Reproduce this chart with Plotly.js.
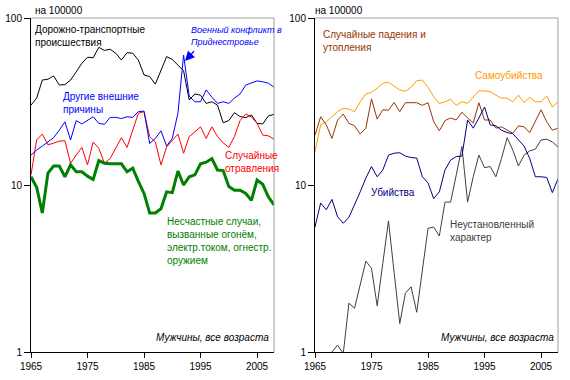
<!DOCTYPE html>
<html>
<head>
<meta charset="utf-8">
<script src="https://cdn.plot.ly/plotly-3.0.1.min.js"></script>
<style>html,body{margin:0;padding:0;background:#fff}#chart{width:570px;height:380px}</style>
</head>
<body>
<div id="chart"></div>
<script>
var years = [1965,1966,1967,1968,1969,1970,1971,1972,1973,1974,1975,1976,1977,1978,1979,1980,1981,1982,1983,1984,1985,1986,1987,1988,1989,1990,1991,1992,1993,1994,1995,1996,1997,1998,1999,2000,2001,2002,2003,2004,2005,2006,2007,2008];

// Left panel
var roadTraffic = [30.1,33.1,42.5,43,45,39.7,39.9,42.5,47.6,53.6,58.2,57.8,66.7,64,65,61.5,56,62,61.5,56,45.6,44.6,40.2,48.9,58.7,56.5,52.3,48.3,32.3,35.1,34.5,30.8,31.5,30.1,23.6,24.3,27.1,25.7,25.3,26.3,23.4,23.2,25.9,26.5];
var otherExternal = [15.1,16.2,17.1,18.1,19.2,21.3,23.9,18.6,24.3,23.2,24.5,25.6,23.4,23.1,25.4,25.4,25,25.6,25.4,27.5,27.7,17.7,19.0,21.1,17.1,19.0,26.9,60,34,31.5,31.5,37.1,33.6,30.8,31.5,30.8,33.1,35.1,39.7,40.7,42,41.5,40.7,38.5];
var poisoning = [11.5,18.6,20.2,17.4,17.8,18.3,18.4,13.5,15.1,16.8,13.2,18.1,16.6,13.5,14.4,16.8,19.2,16.8,21.3,26.9,27.5,19.5,18.1,13.2,16.9,18.6,20.2,15.5,19.5,20.8,22.3,19.0,22.3,19.5,17.9,16.8,19.5,24.3,26.6,25.6,23.4,19.9,19.7,18.8];
var fireElecGun = [11.2,9.7,6.8,11.8,13.0,13.0,11.2,13.2,12.0,12.0,11.3,10.8,14.0,13.5,13.4,13.4,13.4,12.0,12.6,10.5,8.9,6.8,6.8,7.2,9.1,9.0,12.1,10.0,11.2,11.5,13.4,13.7,14.4,12.3,12.2,9.8,9.3,9.3,8.9,8.1,10.7,10.1,8.5,7.6];

// Right panel
var fallsDrowning = [19.9,25.6,22.9,19.0,24.5,26.6,23.4,22.6,20.2,21.9,32.8,24.8,28.2,28.0,31.2,27.5,31.1,31.1,31.1,30.0,31.1,24,21.1,24.3,25.2,24.5,27.3,25.2,23.5,31.1,24.5,24.5,21.9,22.3,21.3,20.4,22.6,22.3,20.6,23.9,28.2,23.9,21.3,21.9];
var suicide = [15.8,22.9,23.9,25.6,27.5,28.8,28.5,27.5,31.5,35.1,35.9,38.0,40.7,41.2,39.2,37.1,36.4,38.5,42.1,42.5,38.5,33.8,30.8,31.5,32.6,30.0,31.5,30.8,33.6,36.6,36.6,36.2,34.5,33.1,33.1,31.5,34.5,31.1,33.6,31.5,31.5,34.2,29.3,31.5];
var homicide = [5.6,7.8,7.1,8.2,6.45,5.9,6.4,7.6,9.1,11.0,12.9,11.2,12.3,15.1,15.5,15.6,14.9,14.6,14.5,11.2,10.3,8.3,9.1,12.3,14.1,14.8,14.9,24.5,21.9,25.2,29.3,22.9,22.6,21.3,20.6,20.3,18.6,17.1,14.4,11.2,11.2,11.1,9.0,10.9];
var undetermined = [null,null,null,1.0,1.1,0.98,1.96,1.83,2.5,3.5,3.17,1.89,3.4,6.1,3.0,1.48,2.25,2.46,1.73,3.1,5.5,5.6,4.95,7.9,7.9,11.5,17,7.9,11.2,15.1,12.7,12.9,11.2,14.4,19.2,16.2,13.0,15.1,16.0,16.4,18.6,18.8,18.1,16.9];

var xTicks = [1965,1975,1985,1995,2005];
var yTicks = [1,10,100];
var yTickText = ['1','10','100'];

var W = 570, H = 380;
function px(x){return x / W;}
function py(y){return 1 - y / H;}

function tr(y, color, width, xa, ya){
  return {x: years, y: y, type: 'scatter', mode: 'lines', xaxis: xa, yaxis: ya,
          line: {color: color, width: width}, connectgaps: false, hoverinfo: 'skip'};
}

var data = [
  tr(roadTraffic, '#000000', 1, 'x', 'y'),
  tr(poisoning, '#ff0000', 1, 'x', 'y'),
  tr(otherExternal, '#0000ff', 1, 'x', 'y'),
  tr(fireElecGun, '#008000', 3, 'x', 'y'),
  tr(suicide, '#ff9900', 1, 'x2', 'y2'),
  tr(fallsDrowning, '#993300', 1, 'x2', 'y2'),
  tr(undetermined, '#404040', 1, 'x2', 'y2'),
  tr(homicide, '#000080', 1, 'x2', 'y2')
];

var fnt = {family: '"Liberation Sans", Arial, sans-serif', size: 10, color: '#000'};

function xAxis(dom, anchor){
  return {domain: dom, anchor: anchor, range: [1965, 2008], tickvals: xTicks,
          ticks: 'outside', ticklen: 5, tickcolor: '#000', tickwidth: 1,
          showline: true, linecolor: '#000', linewidth: 1, showgrid: false, zeroline: false,
          tickfont: fnt, fixedrange: true};
}
function yAxis(anchor){
  return {domain: [py(352), py(18)], anchor: anchor, type: 'log', range: [0, 2],
          tickvals: yTicks, ticktext: yTickText, ticks: 'outside', ticklen: 6,
          tickcolor: '#000', tickwidth: 1, showline: true, linecolor: '#000', linewidth: 1,
          showgrid: false, zeroline: false, tickfont: fnt, fixedrange: true};
}

function lab(text, x, y, color, opts){
  var a = {text: text, x: px(x), y: py(y), xref: 'paper', yref: 'paper',
           xanchor: 'left', yanchor: 'middle', showarrow: false, align: 'left',
           font: {family: fnt.family, size: 10, color: color}};
  if (opts) for (var k in opts) { if (k === 'font') { for (var f in opts.font) a.font[f] = opts.font[f]; } else a[k] = opts[k]; }
  return a;
}

var annotations = [
  lab('на 100000', 33, 11, '#000'),
  lab('Дорожно-транспортные<br>происшествия', 33, 35.5, '#000'),
  lab('<i>Военный конфликт в<br>Приднестровье</i>', 189, 36, '#0000ff', {font: {size: 9}}),
  lab('Другие внешние<br>причины', 61, 102.5, '#0000ff'),
  lab('Случайные<br>отравления', 223, 162, '#ff0000'),
  lab('Несчастные случаи,<br>вызванные огонём,<br>электр.током, огнестр.<br>оружием', 165, 241, '#008000'),
  lab('<i>Мужчины, все возраста</i>', 271, 337, '#000', {xanchor: 'right'}),
  lab('на 100000', 313, 11, '#000'),
  lab('Случайные падения и<br>утопления', 321, 41.5, '#993300'),
  lab('Самоубийства', 473, 75, '#ff9900'),
  lab('Убийства', 369, 192, '#000080'),
  lab('Неустановленный<br>характер', 448, 231, '#404040'),
  lab('<i>Мужчины, все возраста</i>', 556, 337, '#000', {xanchor: 'right'}),
  {text: ' ', x: px(185), y: py(61), xref: 'paper', yref: 'paper', showarrow: true,
   ax: 12, ay: -13, arrowhead: 2, arrowsize: 1.6, arrowwidth: 1.2, arrowcolor: '#0000ff', standoff: 0}
];

var grayBorder = '#a0a0a0';
function border(x0, x1){
  return [
    {type: 'line', xref: 'paper', yref: 'paper', x0: px(x0), x1: px(x1), y0: py(18), y1: py(18), line: {color: grayBorder, width: 1}},
    {type: 'line', xref: 'paper', yref: 'paper', x0: px(x1), x1: px(x1), y0: py(18), y1: py(352), line: {color: grayBorder, width: 1}}
  ];
}

var layout = {
  width: W, height: H, margin: {l: 0, r: 0, t: 0, b: 0},
  paper_bgcolor: '#fff', plot_bgcolor: '#fff', showlegend: false,
  font: fnt,
  xaxis: xAxis([px(31), px(274)], 'y'),
  yaxis: yAxis('x'),
  xaxis2: xAxis([px(315), px(558)], 'y2'),
  yaxis2: yAxis('x2'),
  annotations: annotations,
  shapes: border(31, 274).concat(border(315, 558))
};

Plotly.newPlot('chart', data, layout, {displayModeBar: false, staticPlot: true});
</script>
</body>
</html>
